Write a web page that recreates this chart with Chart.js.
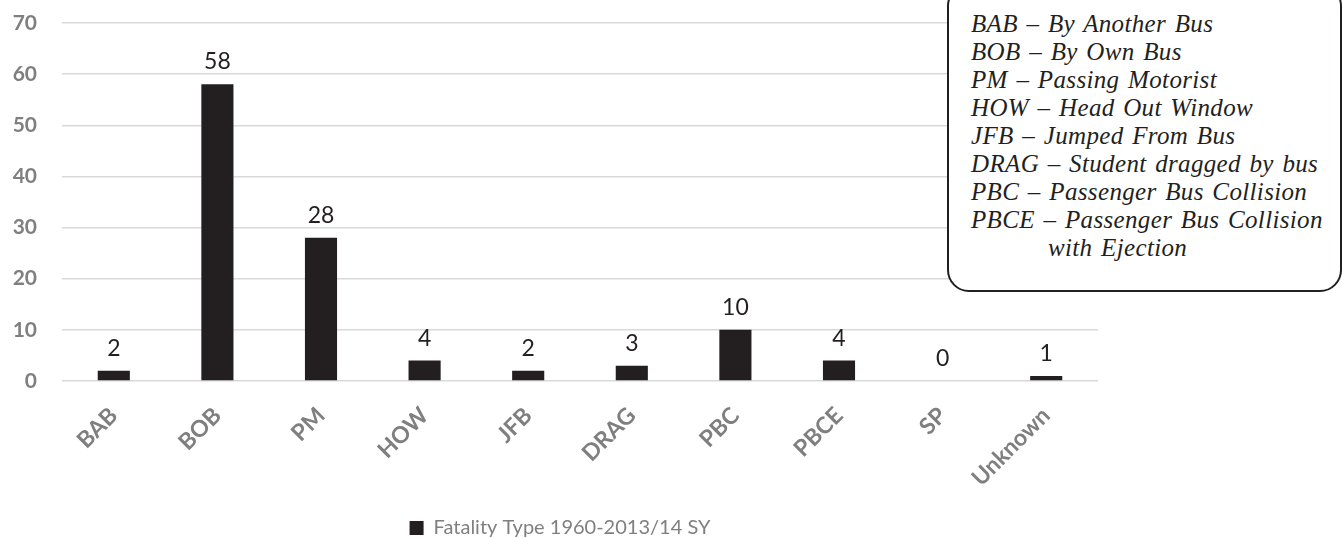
<!DOCTYPE html>
<html>
<head>
<meta charset="utf-8">
<script src="https://cdn.jsdelivr.net/npm/chart.js@4.4.1/dist/chart.umd.min.js"></script>
<style>
  html, body { margin: 0; padding: 0; background: #ffffff; }
  #wrap { position: relative; width: 1342px; height: 538px; overflow: hidden; }
  #c { position: absolute; left: 0; top: 0; }
  #keybox {
    position: absolute; left: 947px; top: -16px; width: 395px; height: 308px;
    box-sizing: border-box; border: 2.5px solid #231f20; border-radius: 22px;
    background: #ffffff; padding: 24px 0 0 22px;
    font-family: "Liberation Serif", "DejaVu Serif", serif; font-style: italic;
    font-size: 25px; line-height: 28px; letter-spacing: 0.35px; word-spacing: 2px;
    color: #231f20; white-space: nowrap;
  }
</style>
</head>
<body>
<div id="wrap">
  <canvas id="c" width="1342" height="538"></canvas>
  <div id="keybox"></div>
</div>
<script>
const categories = ["BAB", "BOB", "PM", "HOW", "JFB", "DRAG", "PBC", "PBCE", "SP", "Unknown"];
const fatalities = [2, 58, 28, 4, 2, 3, 10, 4, 0, 1];
const seriesLabel = "Fatality Type 1960-2013/14 SY";
const yTicks = [0, 10, 20, 30, 40, 50, 60, 70];
const keyLines = [
  "BAB \u2013 By Another Bus",
  "BOB \u2013 By Own Bus",
  "PM \u2013 Passing Motorist",
  "HOW \u2013 Head Out Window",
  "JFB \u2013 Jumped From Bus",
  "DRAG \u2013 Student dragged by bus",
  "PBC \u2013 Passenger Bus Collision",
  "PBCE \u2013 Passenger Bus Collision",
  "with Ejection"
];

const kb = document.getElementById('keybox');
keyLines.forEach((t, i) => {
  const d = document.createElement('div');
  d.textContent = t;
  if (i === keyLines.length - 1) d.style.paddingLeft = '77px';
  kb.appendChild(d);
});

const valueLabels = {
  id: 'valueLabels',
  afterDatasetsDraw(chart) {
    const ctx = chart.ctx;
    const meta = chart.getDatasetMeta(0);
    ctx.save();
    ctx.font = '23px Lato';
    ctx.fillStyle = '#231f20';
    ctx.textAlign = 'center';
    ctx.textBaseline = 'alphabetic';
    meta.data.forEach((bar, i) => {
      ctx.fillText(String(chart.data.datasets[0].data[i]), bar.x, bar.y - 15);
    });
    ctx.restore();
  }
};

const legendShift = {
  id: 'legendShift',
  afterLayout(chart) {
    if (chart.legend) chart.legend.left = 22;
  }
};

new Chart(document.getElementById('c'), {
  type: 'bar',
  data: {
    labels: categories,
    datasets: [{
      label: seriesLabel,
      data: fatalities,
      backgroundColor: '#231f20',
      borderWidth: 0,
      barPercentage: 0.31,
      categoryPercentage: 1.0
    }]
  },
  options: {
    responsive: false,
    animation: false,
    devicePixelRatio: 1,
    layout: { padding: { top: 23, right: 244, left: 0, bottom: -10 } },
    scales: {
      x: {
        grid: { display: false, drawTicks: false },
        border: { display: false },
        ticks: {
          autoSkip: false, minRotation: 45, maxRotation: 45, padding: 21,
          color: '#7f7f7f', font: { family: 'Lato', size: 23, weight: 'bold' }
        },
        afterFit(s) { s.height = 131; }
      },
      y: {
        min: 0, max: 70,
        afterBuildTicks(s) { s.ticks = yTicks.map(v => ({ value: v })); },
        grid: { color: '#d9d9d9', lineWidth: 1.5, drawTicks: false },
        border: { display: false },
        ticks: {
          padding: 25, color: '#7f7f7f',
          font: { family: 'Lato', size: 21, weight: 'bold' }
        },
        afterFit(s) { s.width = 62; s.paddingTop = 0; s.paddingBottom = 0; }
      }
    },
    plugins: {
      legend: {
        position: 'bottom',
        labels: {
          boxWidth: 14, boxHeight: 14, padding: 6,
          color: '#7f7f7f', font: { family: 'Lato', size: 20 }
        }
      },
      tooltip: { enabled: false }
    }
  },
  plugins: [valueLabels, legendShift]
});
</script>
</body>
</html>
